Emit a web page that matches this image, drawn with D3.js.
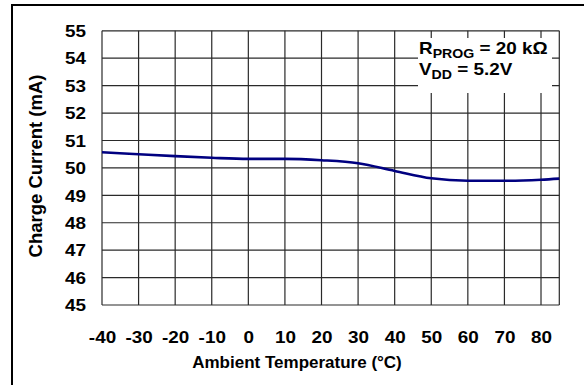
<!DOCTYPE html>
<html>
<head>
<meta charset="utf-8">
<script src="https://cdn.jsdelivr.net/npm/d3@7"></script>
<style>
body { margin: 0; background: #fff; }
text { font-family: "Liberation Sans", Arial, sans-serif; font-weight: bold; fill: #000; }
</style>
</head>
<body>
<div id="chart"></div>
<script>
var width = 584;
var height = 385;

// data
var temps = [-40, -30, -20, -10, 0, 10, 20, 30, 40, 50, 60, 70, 80, 85];
var current = [50.57, 50.50, 50.43, 50.37, 50.33, 50.33, 50.28, 50.17, 49.89, 49.62, 49.53, 49.53, 49.57, 49.61];
var xTicks = [-40, -30, -20, -10, 0, 10, 20, 30, 40, 50, 60, 70, 80];
var yTicks = [45, 46, 47, 48, 49, 50, 51, 52, 53, 54, 55];
var xTitle = "Ambient Temperature (°C)";
var yTitle = "Charge Current (mA)";

var pLeft = 102, pRight = 559.3, pTop = 30.8, pBottom = 305;
var sx = 1.18; // reference glyphs are a bit wide

var svg = d3.select("#chart").append("svg").attr("width", width).attr("height", height);

// outer frame (only left + top show)
svg.append("path")
	.attr("d", "M12,400 L12,5 L600,5")
	.attr("fill", "none").attr("stroke", "#000").attr("stroke-width", 2);

var x = d3.scaleLinear().domain([-40, 85]).range([pLeft, pRight]);
var y = d3.scaleLinear().domain([45, 55]).range([pBottom, pTop]);

// grid
svg.append("g").selectAll("line").data(xTicks.concat([85])).enter().append("line")
	.attr("x1", function(d){ return x(d); }).attr("x2", function(d){ return x(d); })
	.attr("y1", pTop).attr("y2", pBottom)
	.attr("stroke", "#2a2a2a").attr("stroke-width", 1.2);
svg.append("g").selectAll("line").data(yTicks).enter().append("line")
	.attr("x1", pLeft).attr("x2", pRight)
	.attr("y1", function(d){ return y(d); }).attr("y2", function(d){ return y(d); })
	.attr("stroke", "#2a2a2a").attr("stroke-width", 1.2);

// legend box covers grid
svg.append("rect").attr("x", 418).attr("y", 38).attr("width", 134).attr("height", 55).attr("fill", "#fff");

var leg = svg.append("g").attr("transform", "translate(419,0) scale(" + sx + ",1)").style("font-size", "16px");
var t1 = leg.append("text").attr("x", 0).attr("y", 54.5);
t1.append("tspan").text("R");
t1.append("tspan").attr("dy", 4).style("font-size", "12px").text("PROG");
t1.append("tspan").attr("dy", -4).text(" = 20 kΩ");
var t2 = leg.append("text").attr("x", 0).attr("y", 75.5);
t2.append("tspan").text("V");
t2.append("tspan").attr("dy", 4).style("font-size", "12px").text("DD");
t2.append("tspan").attr("dy", -4).text(" = 5.2V");

// axes
var fmt = function(d){ return String(d); };
var xAxis = svg.append("g").attr("transform", "translate(0," + pBottom + ")")
	.call(d3.axisBottom(x).tickValues(xTicks).tickFormat(fmt).tickSize(0).tickPadding(0));
xAxis.select(".domain").remove();
xAxis.selectAll("text").attr("y", 38).attr("dy", 0).style("font-size", "16px")
	.attr("transform", "scale(" + sx + ",1)");

var yAxis = svg.append("g").attr("transform", "translate(" + pLeft + ",0)")
	.call(d3.axisLeft(y).tickValues(yTicks).tickFormat(fmt).tickSize(0).tickPadding(16));
yAxis.select(".domain").remove();
yAxis.selectAll("text").style("font-size", "16px").attr("dy", "0.36em")
	.attr("x", -16 / sx).attr("transform", "scale(" + sx + ",1)");

svg.append("text").attr("x", 297).attr("y", 368).attr("text-anchor", "middle")
	.style("font-size", "17px").text(xTitle);
svg.append("text").attr("transform", "translate(42,166) rotate(-90)").attr("text-anchor", "middle")
	.style("font-size", "18.5px").text(yTitle);

// curve
var line = d3.line()
	.x(function(d, i){ return x(temps[i]); })
	.y(function(d){ return y(d); })
	.curve(d3.curveMonotoneX);
svg.append("path").datum(current)
	.attr("d", line)
	.attr("fill", "none").attr("stroke", "#000080").attr("stroke-width", 2.6);
</script>
</body>
</html>
